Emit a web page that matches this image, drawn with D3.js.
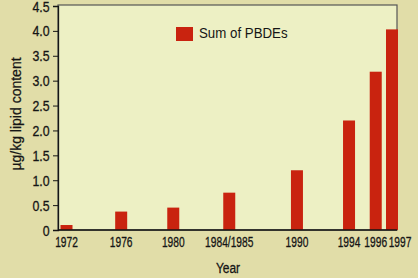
<!DOCTYPE html>
<html>
<head>
<meta charset="utf-8">
<script src="https://cdn.jsdelivr.net/npm/d3@7"></script>
<style>
  html, body { margin: 0; padding: 0; background: #e1dda8; }
  svg { display: block; }
</style>
</head>
<body>
<div id="canvas"></div>
<script>
"use strict";

/* Data */
let years = ["1972", "1976", "1980", "1984/1985", "1990", "1994", "1996", "1997"];
let yearPos = [1972, 1976.2, 1980.2, 1984.5, 1989.7, 1993.7, 1995.75, 1997];
let pbdeValues = [0.1, 0.37, 0.45, 0.75, 1.2, 2.2, 3.18, 4.03];
let yTicks = [0, 0.5, 1.0, 1.5, 2.0, 2.5, 3.0, 3.5, 4.0, 4.5];
let yTickLabels = ["0", "0.5", "1.0", "1.5", "2.0", "2.5", "3.0", "3.5", "4.0", "4.5"];

/* Drawing config */
let svgWidth = 418;
let svgHeight = 278;
let plotLeft = 58, plotRight = 397, plotTop = 5, plotBottom = 230;
let barWidth = 12;
let red = "#c9230f";
let ink = "#151515";
let font = "'Liberation Sans', Arial, sans-serif";
let squeeze = 0.73; // condensed look of the year labels
let lastLabelShift = 8; // 1997 label sits right of its bar

let svg = d3.select("#canvas")
  .append("svg")
  .attr("width", svgWidth)
  .attr("height", svgHeight);

/* page background */
svg.append("rect")
  .attr("width", svgWidth)
  .attr("height", svgHeight)
  .attr("fill", "#e1dda8");

/* plot area */
svg.append("rect")
  .attr("x", plotLeft)
  .attr("y", plotTop)
  .attr("width", plotRight - plotLeft)
  .attr("height", plotBottom - plotTop)
  .attr("fill", "#edf0c4")
  .attr("stroke", "#555")
  .attr("stroke-width", 1.2);

let xScale = d3.scaleLinear()
  .domain([1972, 1997])
  .range([66.5, 392]);

let yScale = d3.scaleLinear()
  .domain([0, 4.5])
  .range([plotBottom, plotTop + 1]);

/* bars */
svg.selectAll("rect.bar")
  .data(pbdeValues)
  .enter()
  .append("rect")
  .attr("class", "bar")
  .attr("x", function (d, i) { return xScale(yearPos[i]) - barWidth / 2; })
  .attr("y", function (d) { return yScale(d); })
  .attr("width", barWidth)
  .attr("height", function (d) { return plotBottom - yScale(d); })
  .attr("fill", red);

/* y axis */
let yAxis = d3.axisLeft(yScale)
  .tickValues(yTicks)
  .tickSize(5)
  .tickPadding(4)
  .tickFormat(function (d, i) { return yTickLabels[i]; });

let yAxisG = svg.append("g")
  .attr("transform", "translate(" + plotLeft + ",0)")
  .call(yAxis);
yAxisG.select(".domain").attr("stroke", ink).attr("stroke-width", 1.3);
yAxisG.selectAll(".tick line").attr("stroke", ink);
yAxisG.selectAll("text")
  .attr("font-family", font)
  .attr("font-size", "14px")
  .attr("fill", ink)
  .attr("stroke", ink)
  .attr("stroke-width", 0.3)
  .attr("x", -8.5 / 0.88)
  .attr("dy", "0.36em")
  .attr("transform", "scale(0.88,1)");

/* x axis baseline */
svg.append("line")
  .attr("x1", plotLeft)
  .attr("x2", plotRight)
  .attr("y1", plotBottom)
  .attr("y2", plotBottom)
  .attr("stroke", ink)
  .attr("stroke-width", 1.3);

/* year labels */
svg.selectAll("text.year")
  .data(years)
  .enter()
  .append("text")
  .attr("class", "year")
  .attr("transform", function (d, i) {
    let x = xScale(yearPos[i]) + (i === years.length - 1 ? lastLabelShift : 0);
    return "translate(" + x + ",247) scale(" + squeeze + ",1)";
  })
  .attr("text-anchor", "middle")
  .attr("font-family", font)
  .attr("font-size", "14px")
  .attr("fill", ink)
  .attr("stroke", ink)
  .attr("stroke-width", 0.3)
  .text(function (d) { return d; });

/* axis titles */
svg.append("text")
  .attr("transform", "translate(228,273) scale(0.8,1)")
  .attr("text-anchor", "middle")
  .attr("font-family", font)
  .attr("font-size", "15px")
  .attr("fill", ink)
  .attr("stroke", ink)
  .attr("stroke-width", 0.3)
  .text("Year");

svg.append("text")
  .attr("transform", "translate(21,114) rotate(-90)")
  .attr("text-anchor", "middle")
  .attr("font-family", font)
  .attr("font-size", "14px")
  .attr("fill", ink)
  .attr("stroke", ink)
  .attr("stroke-width", 0.25)
  .text("µg/kg lipid content");

/* legend */
svg.append("rect")
  .attr("x", 176)
  .attr("y", 27)
  .attr("width", 17)
  .attr("height", 14)
  .attr("fill", red);

svg.append("text")
  .attr("transform", "translate(199,38) scale(0.95,1)")
  .attr("font-family", font)
  .attr("font-size", "14px")
  .attr("fill", ink)
  .text("Sum of PBDEs");
</script>
</body>
</html>
